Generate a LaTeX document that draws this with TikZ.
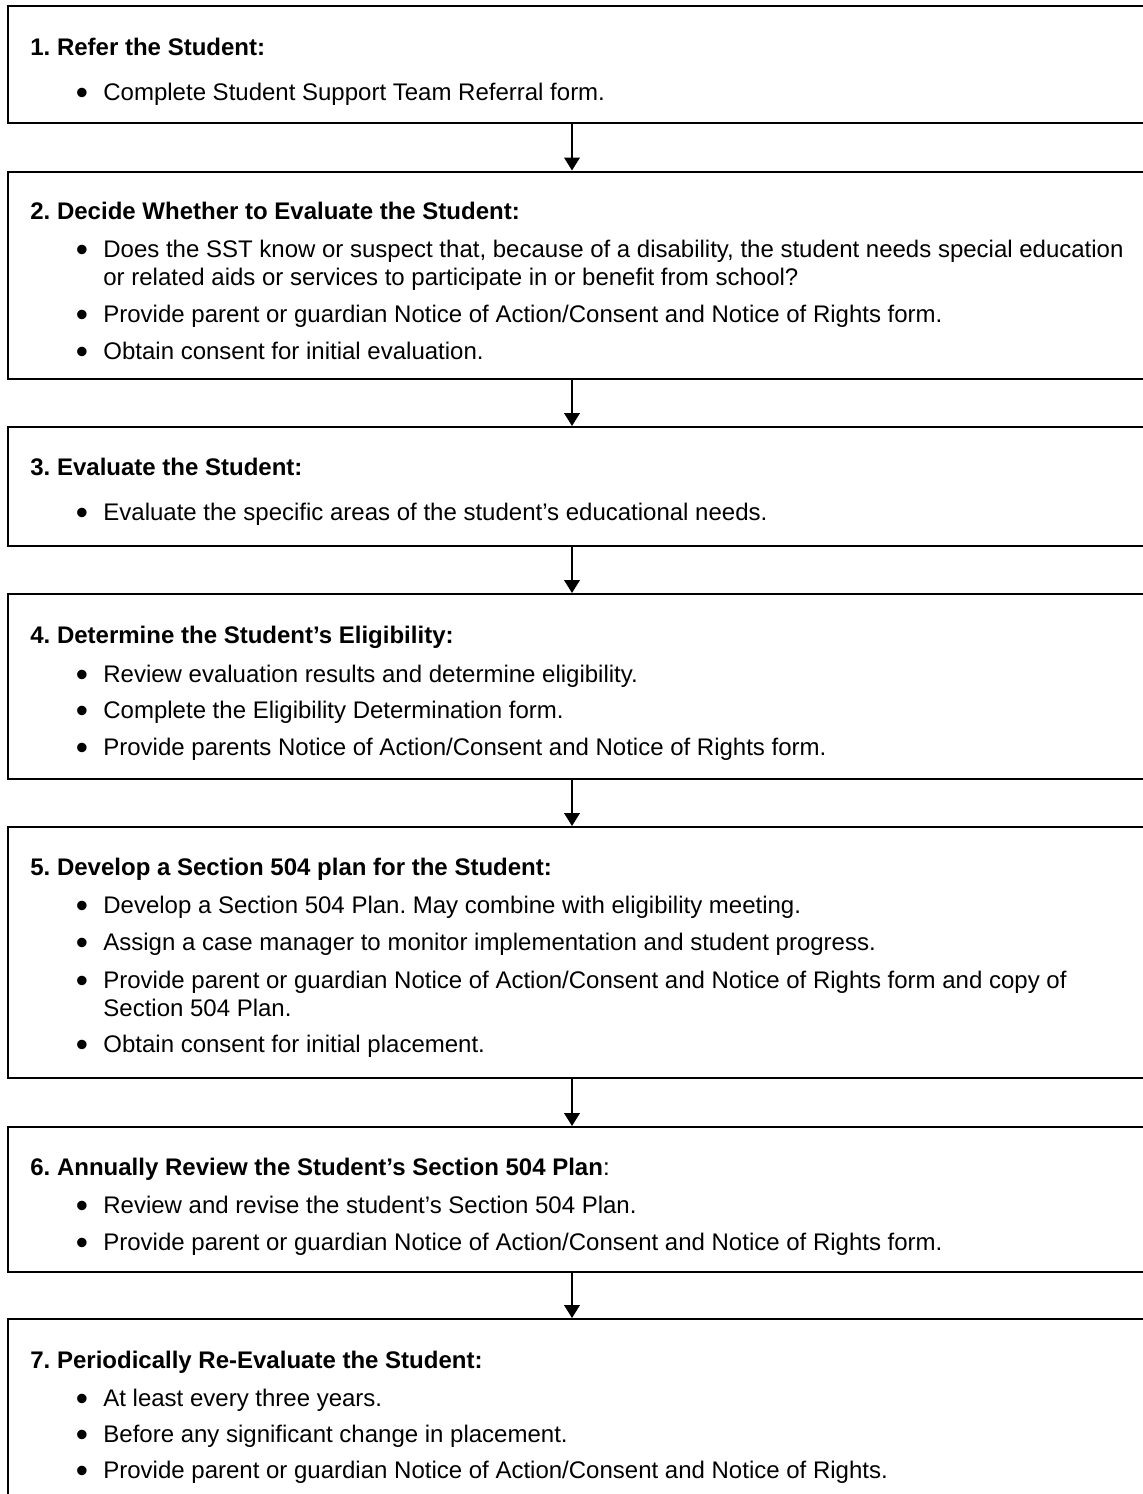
\documentclass[tikz,border=0pt]{standalone}
\usepackage{fontspec}
\setmainfont{Liberation Sans}
\usetikzlibrary{arrows.meta}
\newcommand\flowfont{\fontsize{12pt}{13.75pt}\selectfont\frenchspacing}
\newcommand\bul{\makebox[13.75pt][l]{\raisebox{-2.2pt}{\scalebox{1.45}{•}}}}
\begin{document}
\frenchspacing
\begin{tikzpicture}[x=0.5pt,y=-0.5pt,
  every node/.style={font=\flowfont},
  box/.style={draw, line width=1pt, inner sep=0pt, minimum width=580pt, anchor=north west},
  ttl/.style={anchor=base west, inner sep=0pt, font=\flowfont\bfseries},
  itm/.style={anchor=base west, inner sep=0pt},
  arr/.style={-{Triangle[width=7.8pt,length=6.5pt]}, line width=1pt}]
\clip (0,0) rectangle (1143,1494);
\useasboundingbox (0,0) rectangle (1143,1494);
\coordinate (ax) at (572,0);
% boxes
\node[box, minimum height=58.75pt] (b1) at (7,4.5) {};
\node[box, minimum height=103.5pt] (b2) at (7,170.5) {};
\node[box, minimum height=59.5pt]  (b3) at (7,426) {};
\node[box, minimum height=92.5pt]  (b4) at (7,593) {};
\node[box, minimum height=125.5pt] (b5) at (7,826) {};
\node[box, minimum height=72.5pt]  (b6) at (7,1126) {};
\node[box, minimum height=125pt]   (b7) at (7,1318) {};
% arrows
\draw[arr] (b1.south -| ax) -- (b2.north -| ax);
\draw[arr] (b2.south -| ax) -- (b3.north -| ax);
\draw[arr] (b3.south -| ax) -- (b4.north -| ax);
\draw[arr] (b4.south -| ax) -- (b5.north -| ax);
\draw[arr] (b5.south -| ax) -- (b6.north -| ax);
\draw[arr] (b6.south -| ax) -- (b7.north -| ax);
% box 1
\node[ttl] (t1) at (30,55) {1. Refer the Student:};
\node[itm] (i1a) at (75.5,100) {\bul Complete Student Support Team Referral form.};
% box 2
\node[ttl] (t2) at (30,219) {2. Decide Whether to Evaluate the Student:};
\node[itm] (i2a) at (75.5,257.5) {\bul Does the SST know or suspect that, because of a disability, the student needs special education};
\node[itm] (i2a2) at (103,285) {or related aids or services to participate in or benefit from school?};
\node[itm] (i2b) at (75.5,322.5) {\bul Provide parent or guardian Notice of Action/Consent and Notice of Rights form.};
\node[itm] (i2c) at (75.5,359) {\bul Obtain consent for initial evaluation.};
% box 3
\node[ttl] (t3) at (30,475) {3. Evaluate the Student:};
\node[itm] (i3a) at (75.5,520) {\bul Evaluate the specific areas of the student’s educational needs.};
% box 4
\node[ttl] (t4) at (30,643) {4. Determine the Student’s Eligibility:};
\node[itm] (i4a) at (75.5,682) {\bul Review evaluation results and determine eligibility.};
\node[itm] (i4b) at (75.5,718.5) {\bul Complete the Eligibility Determination form.};
\node[itm] (i4c) at (75.5,755) {\bul Provide parents Notice of Action/Consent and Notice of Rights form.};
% box 5
\node[ttl] (t5) at (30,875) {5. Develop a Section 504 plan for the Student:};
\node[itm] (i5a) at (75.5,913) {\bul Develop a Section 504 Plan. May combine with eligibility meeting.};
\node[itm] (i5b) at (75.5,950.5) {\bul Assign a case manager to monitor implementation and student progress.};
\node[itm] (i5c) at (75.5,988) {\bul Provide parent or guardian Notice of Action/Consent and Notice of Rights form and copy of};
\node[itm] (i5c2) at (103,1016) {Section 504 Plan.};
\node[itm] (i5d) at (75.5,1052) {\bul Obtain consent for initial placement.};
% box 6
\node[ttl] (t6) at (30,1175) {6. Annually Review the Student’s Section 504 Plan\mdseries:};
\node[itm] (i6a) at (75.5,1213) {\bul Review and revise the student’s Section 504 Plan.};
\node[itm] (i6b) at (75.5,1250) {\bul Provide parent or guardian Notice of Action/Consent and Notice of Rights form.};
% box 7
\node[ttl] (t7) at (30,1368) {7. Periodically Re-Evaluate the Student:};
\node[itm] (i7a) at (75.5,1406) {\bul At least every three years.};
\node[itm] (i7b) at (75.5,1442) {\bul Before any significant change in placement.};
\node[itm] (i7c) at (75.5,1478) {\bul Provide parent or guardian Notice of Action/Consent and Notice of Rights.};
\end{tikzpicture}
\end{document}
